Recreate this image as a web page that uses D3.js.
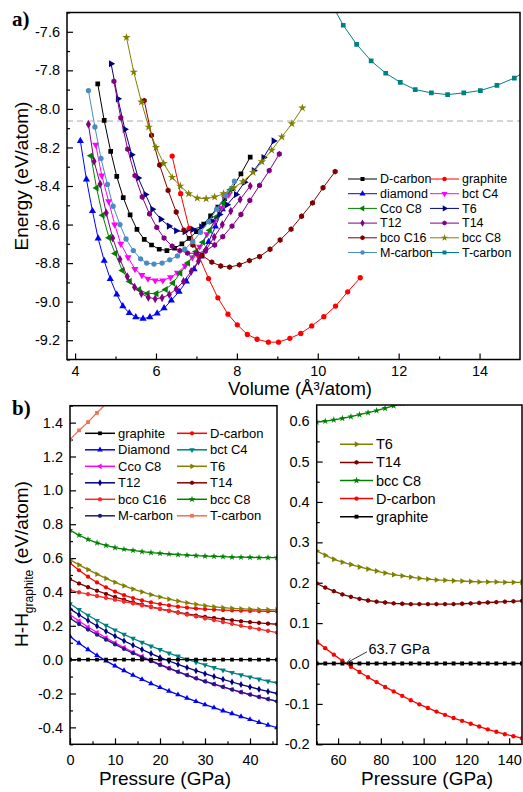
<!DOCTYPE html>
<html>
<head>
<meta charset="utf-8">
<script src="https://cdn.jsdelivr.net/npm/d3@7"></script>
<style>
  body { margin: 0; background: #fff; }
  text { font-family: "Liberation Sans", Arial, sans-serif; fill: #000; }
</style>
</head>
<body>
<div id="my_dataviz"></div>
<script>
// ---------- panel a) : energy vs volume, [V, E] pairs ----------
const topDCarbon = [[4.56,-7.87],[4.72,-8.06],[4.88,-8.22],[5.03,-8.35],[5.19,-8.46],[5.36,-8.55],[5.53,-8.625],[5.71,-8.677],[5.89,-8.706],[6.08,-8.728],[6.27,-8.735],[6.46,-8.723],[6.64,-8.70],[6.82,-8.672],[7.00,-8.637],[7.18,-8.597],[7.35,-8.555],[7.53,-8.51],[7.70,-8.465],[7.88,-8.414],[8.10,-8.337],[8.33,-8.25]];
const topGraphite = [[6.40,-8.245],[6.61,-8.44],[6.82,-8.62],[7.06,-8.763],[7.30,-8.88],[7.53,-8.98],[7.78,-9.065],[8.01,-9.12],[8.26,-9.17],[8.50,-9.195],[8.78,-9.21],[9.03,-9.21],[9.31,-9.19],[9.58,-9.165],[9.85,-9.126],[10.15,-9.078],[10.44,-9.023],[10.74,-8.949],[11.05,-8.876]];
const topDiamond = [[4.13,-8.166],[4.28,-8.366],[4.43,-8.53],[4.57,-8.672],[4.72,-8.788],[4.87,-8.882],[5.03,-8.963],[5.18,-9.023],[5.34,-9.059],[5.50,-9.08],[5.68,-9.088],[5.85,-9.08],[6.03,-9.061],[6.20,-9.034],[6.38,-8.993],[6.57,-8.948],[6.75,-8.895],[6.94,-8.831],[7.12,-8.766],[7.30,-8.69],[7.47,-8.61],[7.64,-8.52]];
const topBctC4 = [[4.51,-8.186],[4.66,-8.346],[4.83,-8.48],[4.98,-8.60],[5.13,-8.70],[5.31,-8.77],[5.48,-8.831],[5.65,-8.862],[5.80,-8.881],[5.98,-8.89],[6.17,-8.89],[6.36,-8.874],[6.53,-8.85],[6.72,-8.814],[6.90,-8.77],[7.08,-8.715],[7.26,-8.65],[7.44,-8.585],[7.62,-8.515],[7.80,-8.445]];
const topCcoC8 = [[4.39,-8.243],[4.53,-8.41],[4.68,-8.552],[4.84,-8.668],[4.99,-8.75],[5.17,-8.838],[5.35,-8.895],[5.58,-8.937],[5.79,-8.958],[6.01,-8.958],[6.24,-8.937],[6.42,-8.903],[6.60,-8.852],[6.79,-8.80],[6.99,-8.74],[7.16,-8.692],[7.33,-8.63],[7.50,-8.56],[7.67,-8.49],[7.84,-8.42]];
const topT6 = [[4.89,-7.766],[5.06,-7.948],[5.23,-8.106],[5.40,-8.238],[5.56,-8.358],[5.74,-8.444],[5.91,-8.521],[6.12,-8.572],[6.32,-8.608],[6.50,-8.632],[6.71,-8.637],[6.91,-8.625],[7.12,-8.612],[7.37,-8.582],[7.57,-8.548],[7.76,-8.497],[7.98,-8.444],[8.19,-8.38],[8.42,-8.32],[8.66,-8.252],[8.91,-8.166]];
const topT12 = [[4.33,-8.08],[4.47,-8.272],[4.62,-8.39],[4.77,-8.54],[4.93,-8.67],[5.11,-8.78],[5.29,-8.87],[5.47,-8.925],[5.64,-8.958],[5.81,-8.978],[5.98,-8.985],[6.15,-8.98],[6.33,-8.963],[6.50,-8.934],[6.68,-8.895],[6.87,-8.843],[7.05,-8.79],[7.24,-8.73],[7.44,-8.665],[7.64,-8.60],[7.85,-8.53],[8.08,-8.47],[8.33,-8.40]];
const topT14 = [[4.96,-7.857],[5.13,-8.046],[5.30,-8.209],[5.48,-8.346],[5.66,-8.457],[5.84,-8.545],[6.02,-8.615],[6.20,-8.67],[6.40,-8.712],[6.59,-8.735],[6.78,-8.748],[7.00,-8.75],[7.22,-8.737],[7.45,-8.706],[7.65,-8.663],[7.88,-8.608],[8.10,-8.548],[8.32,-8.475],[8.56,-8.397],[8.80,-8.32],[9.05,-8.234]];
const topBcoC16 = [[5.71,-7.957],[5.89,-8.137],[6.09,-8.291],[6.30,-8.423],[6.50,-8.535],[6.69,-8.629],[6.91,-8.706],[7.14,-8.76],[7.38,-8.795],[7.60,-8.815],[7.82,-8.821],[8.06,-8.809],[8.31,-8.787],[8.56,-8.766],[8.82,-8.728],[9.07,-8.68],[9.34,-8.624],[9.60,-8.557],[9.87,-8.488],[10.13,-8.409],[10.43,-8.325]];
const topBccC8 = [[5.27,-7.629],[5.45,-7.809],[5.64,-7.964],[5.82,-8.094],[6.00,-8.20],[6.19,-8.283],[6.40,-8.355],[6.60,-8.40],[6.81,-8.44],[7.02,-8.463],[7.24,-8.466],[7.45,-8.457],[7.67,-8.44],[7.92,-8.41],[8.15,-8.377],[8.40,-8.329],[8.62,-8.274],[8.86,-8.214],[9.11,-8.145],[9.36,-8.077],[9.62,-7.995]];
const topMCarbon = [[4.33,-7.905],[4.49,-8.094],[4.64,-8.257],[4.80,-8.392],[4.94,-8.505],[5.11,-8.60],[5.26,-8.675],[5.44,-8.735],[5.62,-8.778],[5.77,-8.80],[5.95,-8.805],[6.15,-8.80],[6.34,-8.783],[6.53,-8.763],[6.71,-8.728],[6.91,-8.689],[7.10,-8.64],[7.30,-8.585],[7.50,-8.52],[7.72,-8.45],[7.94,-8.375]];
const topTCarbon = [[10.30,-7.44],[10.63,-7.566],[10.96,-7.665],[11.32,-7.751],[11.68,-7.815],[12.04,-7.862],[12.41,-7.90],[12.81,-7.917],[13.21,-7.926],[13.61,-7.917],[14.02,-7.905],[14.43,-7.878],[14.86,-7.84],[15.25,-7.79]];
const graphiteRef = -8.063; // dashed line

const topXTicks = [4, 6, 8, 10, 12, 14];
const topXMinor = [5, 7, 9, 11, 13];
const topYTicks = [-9.2, -9.0, -8.8, -8.6, -8.4, -8.2, -8.0, -7.8, -7.6];
const topYMinor = [-9.3, -9.1, -8.9, -8.7, -8.5, -8.3, -8.1, -7.9, -7.7, -7.5];

// ---------- panel b) left : H - H_graphite vs pressure ----------
const pressLeft = [0,2,4,6,8,10,12,14,16,18,20,22,24,26,28,30,32,34,36,38,40,42,44,46];
const blGraphite = [0,0,0,0,0,0,0,0,0,0,0,0,0,0,0,0,0,0,0,0,0,0,0,0];
const blDCarbon = [0.571,0.528,0.49,0.456,0.427,0.402,0.381,0.364,0.35,0.338,0.328,0.32,0.313,0.307,0.302,0.298,0.295,0.293,0.291,0.289,0.288,0.287,0.286,0.285];
const blDiamond = [0.137,0.097,0.06,0.025,-0.007,-0.037,-0.065,-0.092,-0.117,-0.141,-0.164,-0.186,-0.207,-0.227,-0.247,-0.266,-0.284,-0.302,-0.319,-0.336,-0.353,-0.37,-0.386,-0.402];
const blBctC4 = [0.33,0.295,0.262,0.231,0.202,0.175,0.149,0.125,0.102,0.08,0.059,0.039,0.02,0.002,-0.015,-0.031,-0.047,-0.062,-0.076,-0.09,-0.103,-0.115,-0.127,-0.138];
const blCcoC8 = [0.265,0.228,0.193,0.16,0.129,0.099,0.071,0.044,0.019,-0.005,-0.028,-0.05,-0.071,-0.091,-0.11,-0.128,-0.145,-0.161,-0.177,-0.192,-0.206,-0.22,-0.233,-0.245];
const blT6 = [0.59,0.56,0.532,0.505,0.48,0.457,0.436,0.417,0.40,0.384,0.37,0.357,0.346,0.336,0.327,0.319,0.312,0.307,0.303,0.30,0.298,0.296,0.295,0.294];
const blT12 = [0.30,0.265,0.231,0.199,0.168,0.139,0.111,0.085,0.06,0.036,0.013,-0.008,-0.028,-0.047,-0.065,-0.083,-0.10,-0.116,-0.132,-0.147,-0.161,-0.175,-0.188,-0.20];
const blT14 = [0.476,0.45,0.428,0.407,0.388,0.37,0.354,0.339,0.325,0.312,0.30,0.289,0.279,0.27,0.261,0.253,0.246,0.239,0.233,0.227,0.222,0.217,0.213,0.209];
const blBcoC16 = [0.41,0.398,0.387,0.376,0.365,0.354,0.343,0.332,0.321,0.31,0.299,0.288,0.277,0.266,0.255,0.244,0.233,0.222,0.211,0.20,0.19,0.18,0.17,0.16];
const blBccC8 = [0.765,0.735,0.71,0.69,0.675,0.662,0.652,0.645,0.638,0.632,0.628,0.624,0.62,0.617,0.614,0.612,0.61,0.608,0.606,0.605,0.604,0.603,0.603,0.603];
const blMCarbon = [0.245,0.21,0.178,0.147,0.118,0.09,0.063,0.038,0.014,-0.009,-0.031,-0.052,-0.072,-0.091,-0.11,-0.128,-0.145,-0.161,-0.177,-0.192,-0.206,-0.22,-0.233,-0.246];
const blTCarbon = [1.30,1.354,1.403,1.458,1.51];

const blXTicks = [0, 10, 20, 30, 40];
const blXMinor = [5, 15, 25, 35, 45];
const blYTicks = [-0.4, -0.2, 0.0, 0.2, 0.4, 0.6, 0.8, 1.0, 1.2, 1.4];
const blYMinor = [-0.5, -0.3, -0.1, 0.1, 0.3, 0.5, 0.7, 0.9, 1.1, 1.3, 1.5];

// ---------- panel b) right ----------
const pressRight = [50,54,58,62,66,70,74,78,82,86,90,94,98,102,106,110,114,118,122,126,130,134,138,142,146];
const brT6 = [0.279,0.268,0.258,0.251,0.245,0.239,0.234,0.229,0.224,0.22,0.217,0.214,0.211,0.209,0.207,0.206,0.205,0.204,0.203,0.202,0.202,0.202,0.201,0.201,0.201];
const brT14 = [0.198,0.188,0.179,0.171,0.165,0.16,0.156,0.153,0.151,0.149,0.148,0.147,0.147,0.147,0.147,0.147,0.147,0.148,0.149,0.15,0.151,0.152,0.153,0.154,0.155];
const brBccC8 = [0.598,0.60,0.603,0.607,0.611,0.616,0.621,0.626,0.632,0.638,0.644];
const brDCarbon = [0.055,0.038,0.022,0.007,-0.008,-0.021,-0.034,-0.046,-0.058,-0.069,-0.08,-0.091,-0.101,-0.11,-0.119,-0.127,-0.135,-0.142,-0.149,-0.156,-0.163,-0.169,-0.175,-0.18,-0.185];
const brGraphite = [0,0,0,0,0,0,0,0,0,0,0,0,0,0,0,0,0,0,0,0,0,0,0,0,0];
const crossP = 63.7;

const brXTicks = [60, 80, 100, 120, 140];
const brXMinor = [50, 70, 90, 110, 130];
const brYTicks = [-0.2, -0.1, 0.0, 0.1, 0.2, 0.3, 0.4, 0.5, 0.6];
const brYMinor = [-0.15, -0.05, 0.05, 0.15, 0.25, 0.35, 0.45, 0.55];

// ---------- drawing ----------
const W = 523, H = 792;
const svg = d3.select("#my_dataviz").append("svg")
    .attr("width", W).attr("height", H);

const symHex = {
  draw(ctx, size) {
    const r = Math.sqrt(size / (1.5 * Math.sqrt(3)));
    for (let i = 0; i < 6; i++) {
      const a = Math.PI / 3 * i + Math.PI / 6;
      if (i) ctx.lineTo(r * Math.cos(a), r * Math.sin(a));
      else ctx.moveTo(r * Math.cos(a), r * Math.sin(a));
    }
    ctx.closePath();
  }
};
const shapes = {
  square: [d3.symbolSquare, 0], circle: [d3.symbolCircle, 0],
  up: [d3.symbolTriangle, 0], down: [d3.symbolTriangle, 180],
  left: [d3.symbolTriangle, -90], right: [d3.symbolTriangle, 90],
  diamond: [d3.symbolDiamond, 0], hex: [symHex, 0], star: [d3.symbolStar, 0]
};

let clipId = 0;
function makePanel(box, xDom, yDom, xt, xm, yt, ym, padX) {
  const x = d3.scaleLinear().domain(xDom).range([box.x0, box.x1]);
  const y = d3.scaleLinear().domain(yDom).range([box.y1, box.y0]);
  const fmt = d => d.toFixed(1).replace("-0.0", "0.0");

  svg.append("g").attr("transform", `translate(0,${box.y1})`)
      .call(d3.axisBottom(x).tickValues(xt).tickSizeInner(-6).tickSizeOuter(0).tickPadding(padX).tickFormat(d3.format("d")))
      .call(g => g.select(".domain").remove())
      .call(g => g.selectAll("text").attr("font-size", 14.5).attr("font-family", "Liberation Sans"));
  svg.append("g").attr("transform", `translate(0,${box.y1})`)
      .call(d3.axisBottom(x).tickValues(xm).tickSizeInner(-3).tickSizeOuter(0).tickFormat(""))
      .call(g => g.select(".domain").remove());
  svg.append("g").attr("transform", `translate(${box.x0},0)`)
      .call(d3.axisLeft(y).tickValues(yt).tickSizeInner(-6).tickSizeOuter(0).tickPadding(7).tickFormat(fmt))
      .call(g => g.select(".domain").remove())
      .call(g => g.selectAll("text").attr("font-size", 14.5).attr("font-family", "Liberation Sans"));
  svg.append("g").attr("transform", `translate(${box.x0},0)`)
      .call(d3.axisLeft(y).tickValues(ym).tickSizeInner(-3).tickSizeOuter(0).tickFormat(""))
      .call(g => g.select(".domain").remove());
  svg.selectAll(".tick line").attr("stroke", "#000").attr("stroke-width", 1.2);

  const id = "clip" + (clipId++);
  svg.append("clipPath").attr("id", id).append("rect")
      .attr("x", box.x0).attr("y", box.y0)
      .attr("width", box.x1 - box.x0).attr("height", box.y1 - box.y0);
  const plot = svg.append("g").attr("clip-path", `url(#${id})`);
  // frame drawn later so it sits above the curves
  const frame = () => svg.append("rect")
      .attr("x", box.x0).attr("y", box.y0)
      .attr("width", box.x1 - box.x0).attr("height", box.y1 - box.y0)
      .attr("fill", "none").attr("stroke", "#000").attr("stroke-width", 1.5);
  return { x, y, plot, frame };
}

function drawSeries(p, pts, s, size, lw) {
  const [type, rot] = shapes[s.sym];
  p.plot.append("path").datum(pts)
      .attr("fill", "none").attr("stroke", s.color).attr("stroke-width", lw)
      .attr("d", d3.line().x(d => p.x(d[0])).y(d => p.y(d[1])));
  p.plot.append("g").selectAll("path").data(pts).join("path")
      .attr("transform", d => `translate(${p.x(d[0])},${p.y(d[1])}) rotate(${rot})`)
      .attr("d", d3.symbol().type(type).size(size))
      .attr("fill", s.color);
}

function legend(items, cols, x0, colDx, y0, dy, lineLen, fs, size, lw) {
  items.forEach((s, i) => {
    const cx = x0 + (i % cols) * colDx, cy = y0 + Math.floor(i / cols) * dy;
    const [type, rot] = shapes[s.sym];
    const g = svg.append("g");
    g.append("line").attr("x1", cx).attr("x2", cx + lineLen).attr("y1", cy).attr("y2", cy)
        .attr("stroke", s.color).attr("stroke-width", lw);
    g.append("path").attr("transform", `translate(${cx + lineLen / 2},${cy}) rotate(${rot})`)
        .attr("d", d3.symbol().type(type).size(size)).attr("fill", s.color);
    g.append("text").attr("x", cx + lineLen + 3).attr("y", cy).attr("dy", "0.35em")
        .attr("font-size", fs).text(s.name);
  });
}

// ----- panel a -----
const topSeries = [
  { name: "D-carbon", data: topDCarbon, color: "#000000", sym: "square" },
  { name: "graphite", data: topGraphite, color: "#ff0000", sym: "circle" },
  { name: "diamond", data: topDiamond, color: "#0000ff", sym: "up" },
  { name: "bct C4", data: topBctC4, color: "#ff00ff", sym: "down" },
  { name: "Cco C8", data: topCcoC8, color: "#008000", sym: "left" },
  { name: "T6", data: topT6, color: "#000080", sym: "right" },
  { name: "T12", data: topT12, color: "#800080", sym: "diamond" },
  { name: "T14", data: topT14, color: "#800080", sym: "hex" },
  { name: "bco C16", data: topBcoC16, color: "#800000", sym: "hex" },
  { name: "bcc C8", data: topBccC8, color: "#808000", sym: "star" },
  { name: "M-carbon", data: topMCarbon, color: "#4a8cc2", sym: "circle" },
  { name: "T-carbon", data: topTCarbon, color: "#008080", sym: "square" }
];
const pa = makePanel({ x0: 67, x1: 520, y0: 12.5, y1: 359.5 }, [3.8, 15], [-9.3, -7.5],
    topXTicks, topXMinor, topYTicks, topYMinor, 6);
pa.plot.append("line").attr("x1", pa.x(3.8)).attr("x2", pa.x(15))
    .attr("y1", pa.y(graphiteRef)).attr("y2", pa.y(graphiteRef))
    .attr("stroke", "#aaa").attr("stroke-width", 1).attr("stroke-dasharray", "6,4");
topSeries.forEach(s => drawSeries(pa, s.data, s, 22, 1));
pa.frame();
legend(topSeries, 2, 348, 82, 179, 14.7, 29, 12.5, 16, 1);

svg.append("text").attr("x", 12).attr("y", 26)
    .attr("font-weight", "bold").attr("font-size", 21).style("font-family", "Liberation Serif").text("a)");
svg.append("text").attr("transform", "translate(28,176) rotate(-90)").attr("text-anchor", "middle")
    .attr("font-size", 19).text("Energy (eV/atom)");
svg.append("text").attr("x", 300).attr("y", 395).attr("text-anchor", "middle")
    .attr("font-size", 18.5).text("Volume (Å³/atom)");

// ----- panel b left -----
const zip = (press, vals) => vals.map((v, i) => [press[i], v]);
const blSeries = [
  { name: "graphite", vals: blGraphite, color: "#000000", sym: "square" },
  { name: "D-carbon", vals: blDCarbon, color: "#ff0000", sym: "circle" },
  { name: "Diamond", vals: blDiamond, color: "#0000ff", sym: "up" },
  { name: "bct C4", vals: blBctC4, color: "#008080", sym: "down" },
  { name: "Cco C8", vals: blCcoC8, color: "#ff00ff", sym: "left" },
  { name: "T6", vals: blT6, color: "#808000", sym: "right" },
  { name: "T12", vals: blT12, color: "#000080", sym: "diamond" },
  { name: "T14", vals: blT14, color: "#800000", sym: "hex" },
  { name: "bco C16", vals: blBcoC16, color: "#f52a2a", sym: "hex" },
  { name: "bcc C8", vals: blBccC8, color: "#008000", sym: "star" },
  { name: "M-carbon", vals: blMCarbon, color: "#1c1c80", sym: "circle" },
  { name: "T-carbon", vals: blTCarbon, color: "#f07050", sym: "square" }
];
const pbl = makePanel({ x0: 70, x1: 277, y0: 405.7, y1: 744.3 }, [0, 46], [-0.5, 1.5],
    blXTicks, blXMinor, blYTicks, blYMinor, 10);
blSeries.slice(1).forEach(s => drawSeries(pbl, zip(pressLeft, s.vals), s, 14, 1.3));
drawSeries(pbl, zip(pressLeft, blGraphite), blSeries[0], 14, 1.3);
pbl.frame();
legend(blSeries, 2, 85, 92, 433.3, 16.5, 30, 13, 14, 1.5);

svg.append("text").attr("x", 12).attr("y", 415).style("font-family", "Liberation Serif")
    .attr("font-weight", "bold").attr("font-size", 21).text("b)");
const yl = svg.append("text").attr("transform", "translate(28,564) rotate(-90)")
    .attr("text-anchor", "middle").attr("font-size", 19);
yl.append("tspan").text("H-H");
yl.append("tspan").attr("font-size", 12).attr("dy", 5).text("graphite");
yl.append("tspan").attr("dy", -5).text(" (eV/atom)");
svg.append("text").attr("x", 165).attr("y", 785).attr("text-anchor", "middle")
    .attr("font-size", 19).text("Pressure (GPa)");

// ----- panel b right -----
const brSeries = [
  { name: "T6", vals: brT6, color: "#808000", sym: "right" },
  { name: "T14", vals: brT14, color: "#800000", sym: "hex" },
  { name: "bcc C8", vals: brBccC8, color: "#008000", sym: "star" },
  { name: "D-carbon", vals: brDCarbon, color: "#ff0000", sym: "circle" },
  { name: "graphite", vals: brGraphite, color: "#000000", sym: "square" }
];
const pbr = makePanel({ x0: 316.7, x1: 522, y0: 405, y1: 744.3 }, [50, 146], [-0.2, 0.64],
    brXTicks, brXMinor, brYTicks, brYMinor, 10);
brSeries.forEach(s => drawSeries(pbr, zip(pressRight, s.vals), s, 15, 1.3));
pbr.frame();
legend(brSeries, 1, 340, 0, 444.3, 18.1, 33, 14.5, 15, 1.5);

svg.append("defs").append("marker").attr("id", "arr").attr("viewBox", "0 0 10 10")
    .attr("refX", 9).attr("refY", 5).attr("markerWidth", 7).attr("markerHeight", 7)
    .attr("orient", "auto").append("path").attr("d", "M0,1 L10,5 L0,9").attr("fill", "none").attr("stroke", "#000");
svg.append("line").attr("x1", pbr.x(73.5)).attr("y1", pbr.y(0.029))
    .attr("x2", pbr.x(crossP + 0.5)).attr("y2", pbr.y(0.002))
    .attr("stroke", "#000").attr("stroke-width", 0.8).attr("marker-end", "url(#arr)");
svg.append("text").attr("x", pbr.x(74.2)).attr("y", pbr.y(0.036)).attr("dy", "0.35em")
    .attr("font-size", 14.5).text(crossP + " GPa");
svg.append("text").attr("x", 427).attr("y", 785).attr("text-anchor", "middle")
    .attr("font-size", 19).text("Pressure (GPa)");
</script>
</body>
</html>
